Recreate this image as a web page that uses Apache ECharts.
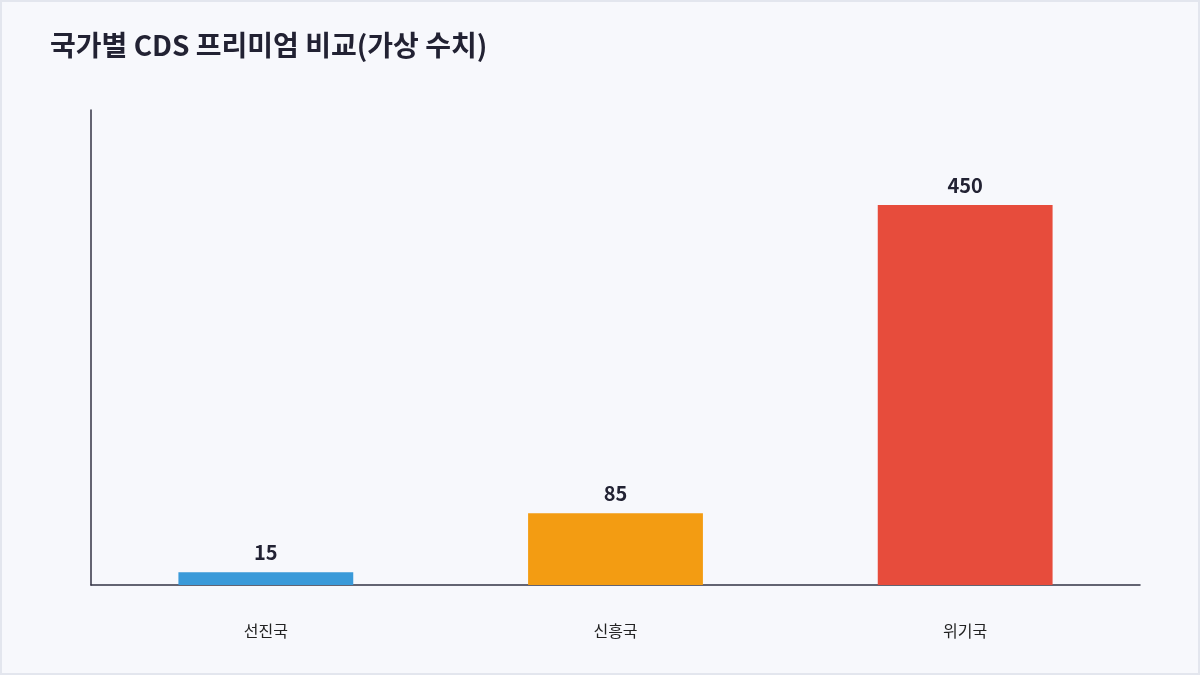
<!DOCTYPE html>
<html><head><meta charset="utf-8">
<script src="https://cdn.jsdelivr.net/npm/echarts@6/dist/echarts.min.js"></script>
<style>html,body{margin:0;padding:0;background:#f7f8fc}#c{width:1200px;height:675px;box-sizing:border-box;border:2px solid #e3e6ee}</style>
</head><body><div id="c"></div>
<script>
const categories = ['선진국', '신흥국', '위기국'];
const values = [15, 85, 450];
const colors = ['#3a9ad9', '#f39c12', '#e74c3c'];
const chart = echarts.init(document.getElementById('c'));
chart.setOption({
  backgroundColor: '#f7f8fc',
  title: { text: '국가별 CDS 프리미엄 비교(가상 수치)', left: 43, top: 24,
    textStyle: { fontFamily: 'Noto Sans CJK KR', fontSize: 28, fontWeight: 'bold', color: '#222233' } },
  grid: { left: 89, right: 58, top: 108, bottom: 88 },
  xAxis: { type: 'category', data: categories,
    axisLine: { lineStyle: { color: '#333344', width: 1.5 } }, axisTick: { show: false },
    axisLabel: { margin: 38, fontFamily: 'Noto Sans CJK KR', fontSize: 16, color: '#222' } },
  yAxis: { type: 'value', min: 0, max: 562.5, splitLine: { show: false },
    axisLabel: { show: false }, axisTick: { show: false },
    axisLine: { show: true, lineStyle: { color: '#333344', width: 1.5 } } },
  series: [{ type: 'bar', barWidth: '50%',
    data: values.map((v, i) => ({ value: v, itemStyle: { color: colors[i] } })),
    label: { show: true, position: 'top', distance: 10, fontFamily: 'Noto Sans CJK KR',
      fontSize: 20, fontWeight: 'bold', color: '#222233' } }]
});
</script></body></html>
